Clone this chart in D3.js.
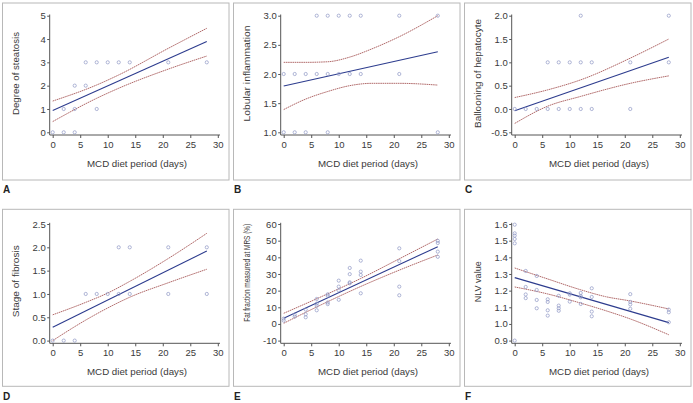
<!DOCTYPE html>
<html><head><meta charset="utf-8">
<script src="https://cdn.jsdelivr.net/npm/d3@7"></script>
<style>
body{margin:0;background:#fff;}
svg{display:block;font-family:"Liberation Sans",Arial,sans-serif;}
</style></head><body>
<svg id="c" width="693" height="403"></svg>
<script>
// ---------- data ----------
const xTicks = [0,5,10,15,20,25,30];

// A: Degree of steatosis
const steatosisPts = [[0,0],[2,0],[2,1],[4,0],[4,1],[4,2],[6,2],[6,3],[8,1],[8,3],[10,3],[12,3],[14,3],[21,3],[28,3]];
const steatosisFit = [[0,0.93],[28,3.89]];
const steatosisUpper = [[0,1.34],[8,2.03],[12,2.46],[21,3.6],[28,4.46]];
const steatosisLower = [[0,0.46],[8,1.46],[12,1.89],[21,2.71],[28,3.27]];
const steatosisTicks = [0,1,2,3,4,5];

// B: Lobular inflammation
const inflamPts = [[0,1],[2,1],[4,1],[8,1],[28,1],[0,2],[2,2],[4,2],[6,2],[8,2],[10,2],[12,2],[14,2],[21,2],[6,3],[8,3],[10,3],[12,3],[14,3],[21,3],[28,3]];
const inflamFit = [[0,1.794],[28,2.383]];
const inflamUpper = [[0,2.2],[4,2.2],[8,2.21],[12,2.29],[16,2.43],[21,2.64],[28,3.0]];
const inflamLower = [[0,1.39],[4,1.57],[8,1.7],[12,1.8],[16,1.84],[21,1.84],[28,1.81]];
const inflamTicks = [1.0,1.5,2.0,2.5,3.0];

// C: Ballooning of hepatocyte
const balloonPts = [[0,0],[2,0],[4,0],[6,0],[8,0],[10,0],[12,0],[14,0],[21,0],[6,1],[8,1],[10,1],[12,1],[14,1],[21,1],[28,1],[12,2],[28,2]];
const balloonFit = [[0,-0.036],[28,1.107]];
const balloonUpper = [[0,0.245],[6,0.41],[12,0.625],[21,1.09],[28,1.5]];
const balloonLower = [[0,-0.31],[6,0.06],[12,0.27],[21,0.55],[28,0.71]];
const balloonTicks = [-0.5,0.0,0.5,1.0,1.5,2.0];

// D: Stage of fibrosis
const fibrosisPts = [[0,0],[2,0],[4,0],[6,1],[8,1],[10,1],[12,1],[14,1],[21,1],[28,1],[12,2],[14,2],[21,2],[28,2]];
const fibrosisFit = [[0,0.287],[28,1.92]];
const fibrosisUpper = [[0,0.553],[6,0.82],[10,1.02],[14,1.27],[21,1.76],[28,2.3]];
const fibrosisLower = [[0,0.0],[6,0.44],[10,0.7],[14,0.93],[21,1.24],[28,1.53]];
const fibrosisTicks = [0.0,0.5,1.0,1.5,2.0,2.5];

// E: Fat fraction measured at MRS (%)
const fatPts = [[0,3.2],[0,2],[2,5.6],[2,4.4],[4,8.6],[4,5.8],[4,4],[6,15],[6,12.2],[6,10.9],[6,8.2],
  [8,17.8],[8,16.9],[8,12.9],[8,11.9],[10,26],[10,22.4],[10,20.2],[10,14.5],[12,33.6],[12,29.9],[12,25],[12,24.4],
  [14,38],[14,31.4],[14,29.4],[14,18.4],[21,45.4],[21,37.7],[21,22.4],[21,17.2],[28,49.9],[28,48.6],[28,43.4],[28,40.3]];
const fatFit = [[0,3.4],[28,46.4]];
const fatUpper = [[0,6.4],[7,16.6],[14,27.3],[21,39.1],[28,51]];
const fatLower = [[0,0.4],[7,11.8],[14,22.5],[21,32.3],[28,41.4]];
const fatTicks = [-10,0,10,20,30,40,50,60];

// F: NLV value
const nlvPts = [[0,1.596],[0,1.544],[0,1.53],[0,1.51],[0,1.484],[0,0.9],
  [2,1.318],[2,1.222],[2,1.177],[2,1.155],[4,1.288],[4,1.204],[4,1.144],[4,1.094],
  [6,1.148],[6,1.132],[6,1.082],[6,1.05],[8,1.169],[8,1.11],[8,1.094],[8,1.079],
  [10,1.184],[10,1.176],[10,1.134],[12,1.186],[12,1.168],[12,1.16],[12,1.12],
  [14,1.214],[14,1.162],[14,1.074],[14,1.046],[21,1.179],[21,1.132],[21,1.117],[21,1.091],
  [28,1.086],[28,1.07],[28,1.01]];
const nlvFit = [[0,1.278],[28,1.008]];
const nlvUpper = [[0,1.336],[6,1.27],[12,1.205],[16.5,1.164],[21,1.138],[28,1.09]];
const nlvLower = [[0,1.222],[6,1.18],[12,1.125],[16.5,1.08],[21,1.03],[28,0.935]];
const nlvTicks = [0.9,1.0,1.1,1.2,1.3,1.4,1.5,1.6];

const panelLabels = ["A","B","C","D","E","F"];
const yTitles = ["Degree of steatosis","Lobular inflammation","Ballooning of hepatocyte","Stage of fibrosis","Fat fraction measured at MRS (%)","NLV value"];
const xTitle = "MCD diet period (days)";

// ---------- layout ----------
const panels = [
  {pts:steatosisPts, fit:steatosisFit, up:steatosisUpper, lo:steatosisLower, ticks:steatosisTicks, fmt:d3.format("d"), tl:83, tc:73.5},
  {pts:inflamPts, fit:inflamFit, up:inflamUpper, lo:inflamLower, ticks:inflamTicks, fmt:d3.format(".1f"), tl:96, tc:73.5},
  {pts:balloonPts, fit:balloonFit, up:balloonUpper, lo:balloonLower, ticks:balloonTicks, fmt:v=>d3.format(".1f")(v).replace("−","-"), tl:109, tc:73.5},
  {pts:fibrosisPts, fit:fibrosisFit, up:fibrosisUpper, lo:fibrosisLower, ticks:fibrosisTicks, fmt:d3.format(".1f"), tl:72, tc:73},
  {pts:fatPts, fit:fatFit, up:fatUpper, lo:fatLower, ticks:fatTicks, fmt:v=>d3.format("d")(v).replace("−","-"), tl:98, tc:64.5},
  {pts:nlvPts, fit:nlvFit, up:nlvUpper, lo:nlvLower, ticks:nlvTicks, fmt:d3.format(".1f"), tl:41, tc:73.5}
];
const colX = [0,231,462];
const rowPlot = [0,208.3];
const rowFrame = [3,209.3];
const rowLabel = [193.3,400];

const svg = d3.select("#c");
const axisColor = "#555", textColor = "#3a3a3a";

panels.forEach((p,i)=>{
  const col = i%3, row = Math.floor(i/3);
  const ox = colX[col], oy = rowPlot[row];
  const g = svg.append("g");
  g.append("rect").attr("x",ox+2.5).attr("y",rowFrame[row]).attr("width",226.5).attr("height",177)
    .attr("fill","none").attr("stroke","#b8b8b8").attr("stroke-width",1);
  g.append("text").attr("x",ox+3).attr("y",rowLabel[row]).text(panelLabels[i])
    .attr("font-size",10).attr("font-weight","bold").attr("fill","#222");

  const x = d3.scaleLinear().domain([0,30]).range([ox+52.7, ox+217.8]);
  const y = d3.scaleLinear().domain([p.ticks[0], p.ticks[p.ticks.length-1]]).range([oy+132.3, oy+15.7]);
  const axY = oy+135, axX = ox+49.7;

  g.append("line").attr("x1",axX).attr("x2",axX).attr("y1",oy+14.5).attr("y2",axY).attr("stroke",axisColor);
  g.append("line").attr("x1",axX).attr("x2",ox+220).attr("y1",axY).attr("y2",axY).attr("stroke",axisColor);

  const xa = g.append("g").attr("transform",`translate(0,${axY})`)
    .call(d3.axisBottom(x).tickValues(xTicks).tickSize(3).tickPadding(3).tickSizeOuter(0).tickFormat(d3.format("d")));
  const ya = g.append("g").attr("transform",`translate(${axX},0)`)
    .call(d3.axisLeft(y).tickValues(p.ticks).tickSize(2.5).tickPadding(1.5).tickSizeOuter(0).tickFormat(p.fmt));
  [xa,ya].forEach(a=>{
    a.select(".domain").remove();
    a.selectAll("line").attr("stroke",axisColor);
    a.selectAll("text").attr("fill",textColor).attr("font-size",9.5).attr("font-family","Liberation Sans, Arial, sans-serif");
  });

  g.append("text").attr("x",ox+137).attr("y",oy+166.7).attr("text-anchor","middle")
    .attr("font-size",9.5).attr("fill",textColor)
    .attr("textLength",100).attr("lengthAdjust","spacingAndGlyphs").text(xTitle);
  g.append("text").attr("transform",`translate(${ox+18.5},${oy+p.tc}) rotate(-90)`).attr("text-anchor","middle")
    .attr("font-size",9.5).attr("fill",textColor)
    .attr("textLength",p.tl).attr("lengthAdjust","spacingAndGlyphs").text(yTitles[i]);

  const line = d3.line().x(d=>x(d[0])).y(d=>y(d[1])).curve(d3.curveMonotoneX);
  [p.up,p.lo].forEach(arr=>{
    g.append("path").attr("d",line(arr)).attr("fill","none").attr("stroke","#a85a5a")
      .attr("stroke-width",0.9).attr("stroke-dasharray","1.6,0.6");
  });
  g.append("path").attr("d",d3.line().x(d=>x(d[0])).y(d=>y(d[1]))(p.fit))
    .attr("fill","none").attr("stroke","#2d3c8e").attr("stroke-width",1.1);
  g.selectAll("circle.pt").data(p.pts).join("circle").attr("class","pt")
    .attr("cx",d=>x(d[0])).attr("cy",d=>y(d[1])).attr("r",1.6)
    .attr("fill","none").attr("stroke","#8e96c4").attr("stroke-width",0.7);
});
</script>
</body></html>
